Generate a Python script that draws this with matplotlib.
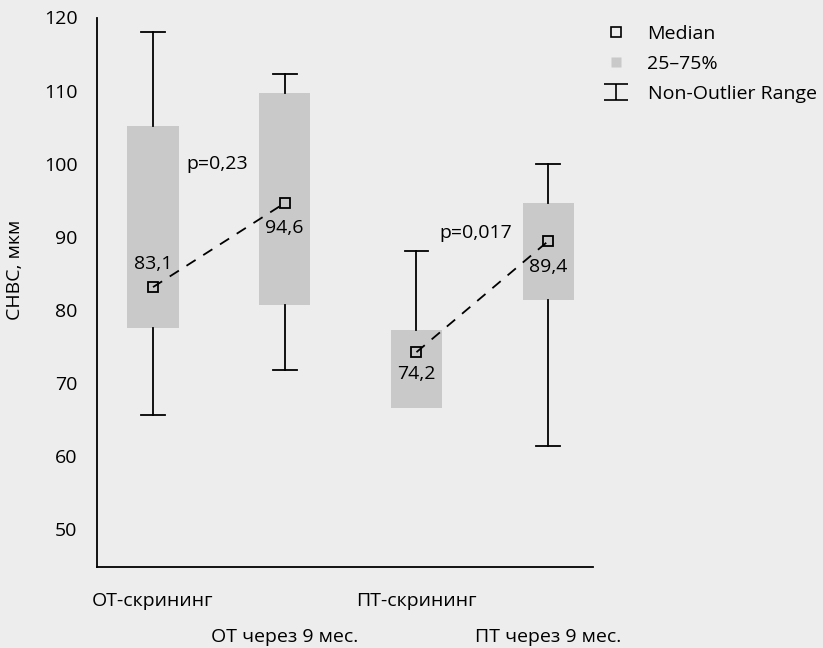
import matplotlib
matplotlib.use("Agg")
import matplotlib.pyplot as plt
from matplotlib.lines import Line2D
from matplotlib.path import Path

plt.rcParams['font.family'] = ['Open Sans', 'DejaVu Sans']

# ---- data ----
categories = ["ОТ-скрининг", "ОТ через 9 мес.", "ПТ-скрининг", "ПТ через 9 мес."]
medians = [83.1, 94.6, 74.2, 89.4]
median_labels = ["83,1", "94,6", "74,2", "89,4"]
q25 = [77.5, 80.6, 66.5, 81.3]
q75 = [105.2, 109.6, 77.2, 94.6]
wlow = [65.6, 71.7, 66.5, 61.3]
whigh = [118.0, 112.3, 88.1, 99.9]
p_values = ["p=0,23", "p=0,017"]
yticks = [50, 60, 70, 80, 90, 100, 110, 120]

BG = "#ededed"
BOX = "#c9c9c9"
FS = 14

fig = plt.figure(figsize=(8.23, 6.48), dpi=100, facecolor=BG)
ax = fig.add_axes([97/823, 1-567/648, (593-97)/823, (567-17.5)/648])
ax.set_facecolor(BG)

pos = [1, 2, 3, 4]
bw = 0.39
cw = 0.18
for x, lo, hi, a, b in zip(pos, wlow, whigh, q25, q75):
    ax.bar(x, b - a, bottom=a, width=bw, color=BOX, edgecolor='none', zorder=1)
    if hi > b:
        ax.plot([x, x], [b, hi], color='black', lw=1.3, zorder=2)
        ax.plot([x - cw/2, x + cw/2], [hi, hi], color='black', lw=1.3, zorder=2)
    if lo < a:
        ax.plot([x, x], [lo, a], color='black', lw=1.3, zorder=2)
        ax.plot([x - cw/2, x + cw/2], [lo, lo], color='black', lw=1.3, zorder=2)

# dashed lines between medians
ax.plot(pos[0:2], medians[0:2], ls=(0, (6, 5)), color='black', lw=1.3, zorder=3)
ax.plot(pos[2:4], medians[2:4], ls=(0, (6, 5)), color='black', lw=1.3, zorder=3)
ax.plot(pos, medians, ls='none', marker='s', ms=7.5, mfc='none', mec='black', mew=1.3, zorder=4)

# median labels
offsets = [(0, 17), (0, -18), (0, -16), (0, -19)]
for x, m, lab, off in zip(pos, medians, median_labels, offsets):
    ax.annotate(lab, (x, m), xytext=off, textcoords='offset points',
                ha='center', va='center', fontsize=FS)

ax.text(1.49, 99.9, p_values[0], ha='center', va='center', fontsize=FS)
ax.text(3.45, 90.45, p_values[1], ha='center', va='center', fontsize=FS)

ax.set_xlim(0.575, 4.34)
ax.set_ylim(44.8, 120)
ax.set_yticks(yticks)
ax.set_yticklabels([str(t) for t in yticks], fontsize=FS)
ax.tick_params(axis='y', length=0, pad=14)
ax.set_xticks([])
for s in ['top', 'right']:
    ax.spines[s].set_visible(False)
ax.spines['left'].set_linewidth(1.3)
ax.spines['bottom'].set_linewidth(1.3)

# staggered category labels
for i, (x, c) in enumerate(zip(pos, categories)):
    yoff = -34.5 if i % 2 == 0 else -69.5
    ax.annotate(c, (x, 44.8), xytext=(0, yoff * 0.72), textcoords='offset points',
                ha='center', va='center', fontsize=FS, annotation_clip=False)

fig.text(15/823, 1-270/648, "СНВС, мкм", rotation=90, ha='center', va='center', fontsize=FS)

# legend
wh = Path([(-1, 0.7), (1, 0.7), (0, 0.7), (0, -0.7), (-1, -0.7), (1, -0.7)],
          [Path.MOVETO, Path.LINETO, Path.MOVETO, Path.LINETO, Path.MOVETO, Path.LINETO])
handles = [
    Line2D([], [], ls='none', marker='s', ms=7.5, mfc='none', mec='black', mew=1.2),
    Line2D([], [], ls='none', marker='s', ms=7.5, mfc=BOX, mec='none'),
    Line2D([], [], ls='none', marker=wh, ms=17, mfc='none', mec='black', mew=1.2),
]
fig.legend(handles, ["Median", "25–75%", "Non-Outlier Range"], loc='upper left',
           bbox_to_anchor=(595/823, 1-15/648), frameon=False, fontsize=FS,
           handlelength=1.2, handletextpad=1.0, labelspacing=0.62, borderpad=0)

fig.savefig("out.png", dpi=100, facecolor=BG)
